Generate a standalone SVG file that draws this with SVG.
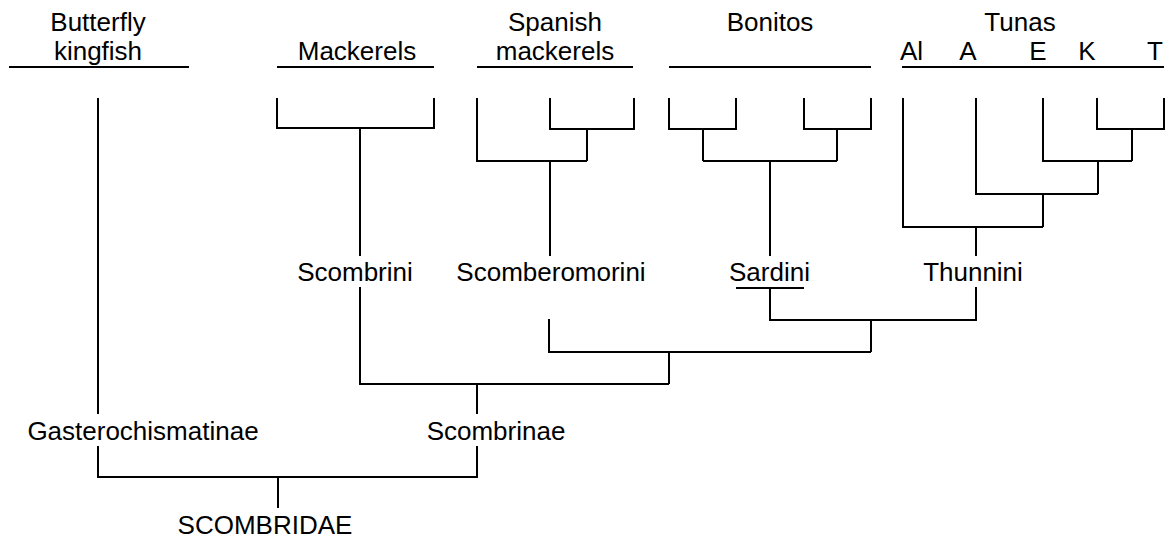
<svg xmlns="http://www.w3.org/2000/svg" width="1170" height="538" viewBox="0 0 1170 538">
<style>
text{font-family:"Liberation Sans",Arial,sans-serif;font-size:26px;fill:#000;text-anchor:middle}
.ln{stroke:#000;stroke-width:2;fill:none;stroke-linecap:butt;stroke-linejoin:miter}
</style>
<rect width="1170" height="538" fill="#fff"/>
<g id="butterfly-kingfish">
<text x="98" y="31">Butterfly</text>
<text x="98" y="60">kingfish</text>
<path class="ln" d="M9 67H189"/>
</g>
<g id="mackerels">
<text x="357" y="60">Mackerels</text>
<path class="ln" d="M277 67H434"/>
</g>
<g id="spanish-mackerels">
<text x="555" y="31">Spanish</text>
<text x="555" y="60">mackerels</text>
<path class="ln" d="M477 67H633"/>
</g>
<g id="bonitos">
<text x="770" y="31">Bonitos</text>
<path class="ln" d="M669 67H871"/>
</g>
<g id="tunas">
<text x="1020" y="31">Tunas</text>
<text x="900" y="60" style="text-anchor:start">Al</text>
<text x="968" y="60">A</text>
<text x="1038" y="60">E</text>
<text x="1087" y="60">K</text>
<text x="1155" y="60">T</text>
<path class="ln" d="M902 67H1164"/>
</g>
<g id="scombrini"><text x="355" y="281">Scombrini</text></g>
<g id="scomberomorini"><text x="551" y="281">Scomberomorini</text></g>
<g id="sardini"><text x="769.5" y="281">Sardini</text><path class="ln" d="M736 288H804"/></g>
<g id="thunnini"><text x="973" y="281">Thunnini</text></g>
<g id="gasterochismatinae"><text x="143" y="440">Gasterochismatinae</text></g>
<g id="scombrinae"><text x="496" y="440">Scombrinae</text></g>
<g id="scombridae"><text x="265" y="534">SCOMBRIDAE</text></g>
<g id="connectors" class="ln">
<path class="ln" d="M98 98V414"/>
<path class="ln" d="M277 98V128H434V98M360 128V256"/>
<path class="ln" d="M550 98V129H634V98M587 129V161M477 98V161H587M550 161V256"/>
<path class="ln" d="M669 98V129H736V98M804 98V129H871V98M703 129V161M837 129V161M703 161H837M770 161V256"/>
<path class="ln" d="M1097 98V129H1164V98M1132 129V161M1043 98V161H1132M1098 161V194M976 98V194H1098M1043 194V227M903 98V227H1043M976 227V256"/>
<path class="ln" d="M770 288V320H976V287M871 320V352M549 319V352H871M669 352V384M360 287V384H669M477 384V414"/>
<path class="ln" d="M98 446V477H477V446M278 477V508"/>
</g>
</svg>
